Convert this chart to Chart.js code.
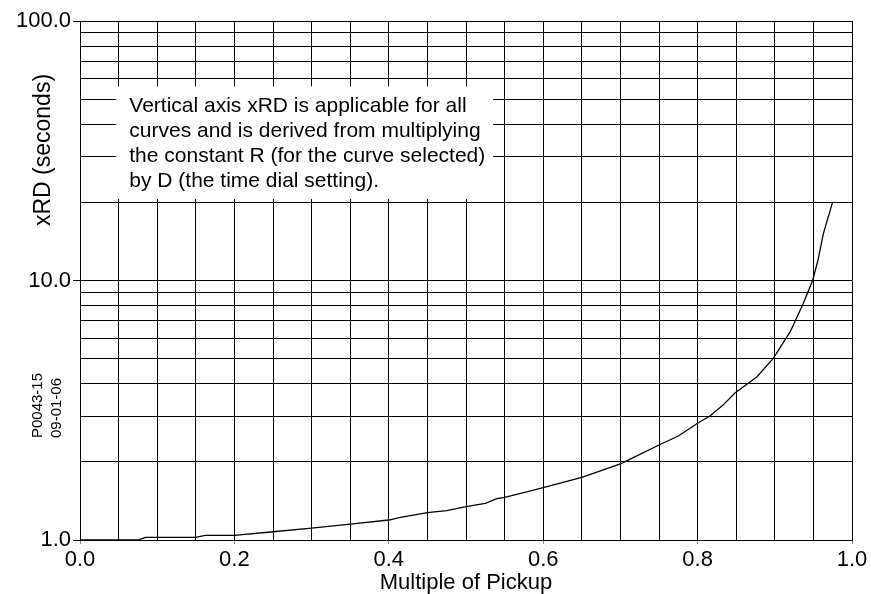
<!DOCTYPE html>
<html>
<head>
<meta charset="utf-8">
<script src="https://cdn.jsdelivr.net/npm/chart.js@4.4.1/dist/chart.umd.min.js"></script>
<style>
  html, body { margin: 0; padding: 0; background: #ffffff; }
  #wrap { width: 871px; height: 594px; position: relative; }
</style>
</head>
<body>
<div id="wrap"><canvas id="c" width="871" height="594"></canvas></div>
<script>
// ---- data ----
const pickupMultiple = [0, 0.075, 0.085, 0.15, 0.162, 0.2, 0.25, 0.3, 0.35, 0.4, 0.415, 0.45, 0.475, 0.5, 0.525, 0.54, 0.55, 0.58, 0.6, 0.65, 0.675, 0.7, 0.712, 0.75, 0.775, 0.8, 0.816, 0.833, 0.848, 0.877, 0.898, 0.92, 0.937, 0.949, 0.956, 0.963, 0.975];
const xRD = [1.0, 1.0, 1.024, 1.024, 1.042, 1.042, 1.076, 1.112, 1.152, 1.194, 1.223, 1.274, 1.297, 1.344, 1.385, 1.443, 1.461, 1.535, 1.59, 1.745, 1.849, 1.963, 2.046, 2.323, 2.517, 2.818, 3.005, 3.31, 3.675, 4.26, 5.01, 6.35, 8.17, 10.0, 12.0, 15.2, 20.1];

const xGridValues = [0, 0.05, 0.1, 0.15, 0.2, 0.25, 0.3, 0.35, 0.4, 0.45, 0.5, 0.55, 0.6, 0.65, 0.7, 0.75, 0.8, 0.85, 0.9, 0.95, 1.0];
const xTickLabels = ['0.0', '0.2', '0.4', '0.6', '0.8', '1.0'];
const yGridValues = [1, 2, 3, 4, 5, 6, 7, 8, 9, 10, 20, 30, 40, 50, 60, 70, 80, 90, 100];
const yTickLabels = ['1.0', '10.0', '100.0'];

const xTitle = 'Multiple of Pickup';
const yTitle = 'xRD (seconds)';
const noteLines = [
  'Vertical axis xRD is applicable for all',
  'curves and is derived from multiplying',
  'the constant R (for the curve selected)',
  'by D (the time dial setting).'
];
const stampLines = ['P0043-15', '09-01-06'];

const FONT = "'Liberation Sans', Arial, Helvetica, sans-serif";

function xLabelFor(v) {
  const s = v.toFixed(1);
  return (Math.abs(v * 5 - Math.round(v * 5)) < 1e-6 && xTickLabels.includes(s)) ? s : '';
}
function yLabelFor(v) {
  const s = v.toFixed(1);
  return yTickLabels.includes(s) ? s : '';
}

const decorPlugin = {
  id: 'decor',
  beforeDatasetsDraw(chart) {
    const { ctx, scales } = chart;
    const xs = scales.x, ys = scales.y;
    const left = xs.getPixelForValue(0.047);
    const right = xs.getPixelForValue(0.535);
    const top = ys.getPixelForValue(56);
    const bottom = ys.getPixelForValue(20.6);
    ctx.save();
    ctx.fillStyle = '#ffffff';
    ctx.fillRect(left, top, right - left, bottom - top);
    ctx.fillStyle = '#000000';
    ctx.font = '21px ' + FONT;
    ctx.textAlign = 'left';
    ctx.textBaseline = 'middle';
    noteLines.forEach((t, i) => {
      ctx.fillText(t, left + 13, top + 20 + i * 25);
    });
    ctx.restore();
  },
  afterDraw(chart) {
    const { ctx } = chart;
    ctx.save();
    ctx.fillStyle = '#000000';
    // y title
    ctx.translate(44, 150);
    ctx.rotate(-Math.PI / 2);
    ctx.font = '23px ' + FONT;
    ctx.textAlign = 'center';
    ctx.textBaseline = 'middle';
    ctx.fillText(yTitle, 0, 0);
    ctx.restore();
    // stamp
    ctx.save();
    ctx.fillStyle = '#000000';
    ctx.font = '15px ' + FONT;
    ctx.textAlign = 'left';
    ctx.textBaseline = 'middle';
    stampLines.forEach((t, i) => {
      ctx.save();
      ctx.translate(38 + i * 19, 438);
      ctx.rotate(-Math.PI / 2);
      ctx.fillText(t, 0, 0);
      ctx.restore();
    });
    ctx.restore();
  }
};

new Chart(document.getElementById('c'), {
  type: 'scatter',
  data: {
    datasets: [{
      data: pickupMultiple.map((x, i) => ({ x: x, y: xRD[i] })),
      showLine: true,
      borderColor: '#000000',
      borderWidth: 1.3,
      pointRadius: 0,
      tension: 0,
      fill: false
    }]
  },
  options: {
    responsive: false,
    animation: false,
    layout: { padding: { top: 21, right: 19, left: 0, bottom: 0 } },
    plugins: { legend: { display: false }, tooltip: { enabled: false } },
    scales: {
      x: {
        type: 'linear',
        min: 0, max: 1,
        afterBuildTicks(scale) { scale.ticks = xGridValues.map(v => ({ value: v })); },
        afterFit(scale) { scale.height = 54; },
        grid: {
          color: '#000000',
          lineWidth: 1,
          drawTicks: true,
          tickLength: 4,
          tickColor: (c) => (c.tick && xLabelFor(c.tick.value) ? '#888888' : 'rgba(0,0,0,0)')
        },
        border: { display: true, color: '#000000', width: 1 },
        ticks: {
          autoSkip: false,
          maxRotation: 0,
          padding: 3,
          color: '#000000',
          font: { family: FONT, size: 22 },
          callback: (v) => xLabelFor(v)
        },
        title: {
          display: true,
          text: xTitle,
          color: '#000000',
          font: { family: FONT, size: 22, lineHeight: 1 },
          padding: { top: 0, bottom: 0 }
        }
      },
      y: {
        type: 'logarithmic',
        min: 1, max: 100,
        afterBuildTicks(scale) { scale.ticks = yGridValues.map(v => ({ value: v })); },
        afterFit(scale) { scale.width = 80; },
        grid: {
          color: '#000000',
          lineWidth: 1,
          drawTicks: true,
          tickLength: 7,
          tickColor: (c) => (c.tick && yLabelFor(c.tick.value) ? '#000000' : 'rgba(0,0,0,0)')
        },
        border: { display: true, color: '#000000', width: 1 },
        ticks: {
          autoSkip: false,
          padding: 2,
          color: '#000000',
          font: { family: FONT, size: 22 },
          callback: (v) => yLabelFor(v)
        }
      }
    }
  },
  plugins: [decorPlugin]
});
</script>
</body>
</html>
